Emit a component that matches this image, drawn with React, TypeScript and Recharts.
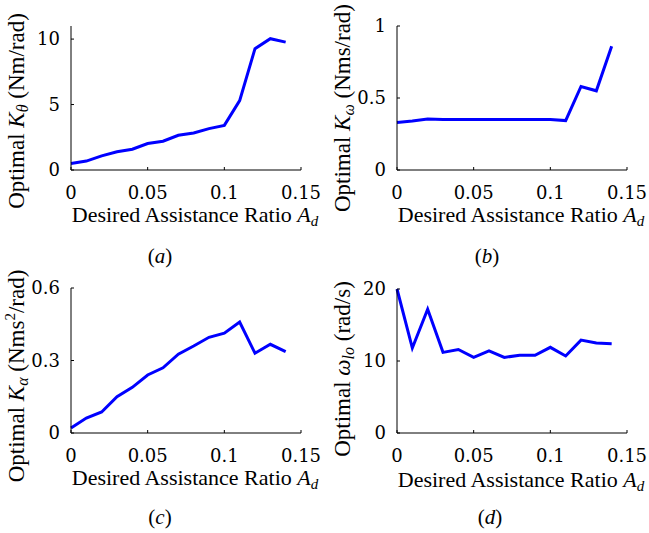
import { LineChart, Line, XAxis, YAxis } from 'recharts';

// desired assistance ratio A_d
const ratios = [0, 0.01, 0.02, 0.03, 0.04, 0.05, 0.06, 0.07, 0.08, 0.09, 0.1, 0.11, 0.12, 0.13, 0.14];
const xTicks = [0, 0.05, 0.1, 0.15];

// optimal gains
const kTheta = [0.5, 0.68, 1.08, 1.39, 1.59, 2.02, 2.2, 2.65, 2.83, 3.16, 3.41, 5.3, 9.27, 10.03, 9.77];
const kOmega = [0.33, 0.34, 0.354, 0.35, 0.35, 0.35, 0.35, 0.35, 0.35, 0.35, 0.35, 0.343, 0.58, 0.55, 0.86];
const kAlpha = [0.021, 0.062, 0.087, 0.15, 0.189, 0.24, 0.27, 0.326, 0.36, 0.396, 0.413, 0.459, 0.33, 0.367, 0.337];
const omegaLo = [20, 11.8, 17.2, 11.2, 11.6, 10.5, 11.4, 10.5, 10.8, 10.8, 11.9, 10.7, 12.9, 12.5, 12.4];

const serif = 'Liberation Serif, DejaVu Serif, serif';
const tickFont = { fill: '#000', fontSize: 18, style: { fontFamily: 'DejaVu Serif, serif' } };

type PanelProps = {
    values: number[];
    domain: [number, number];
    yTicks: number[];
    yLabel: React.ReactNode;
    yLabelY: number;
    caption: string;
    captionX: number;
    captionY: number;
    plotTop: number;
    plotBottom: number;
    height: number;
    xLabelY: number;
};

const Panel = ({ values, domain, yTicks, yLabel, yLabelY, caption, captionX, captionY, plotTop, plotBottom, height, xLabelY }: PanelProps) => {
    const data = ratios.map((r, i) => ({ r, v: values[i] }));

    return (
        <LineChart width={325} height={height} data={data} margin={{ top: plotTop, right: 24, left: 0, bottom: 0 }}>
            <XAxis
                dataKey="r"
                type="number"
                domain={[0, 0.15]}
                ticks={xTicks}
                height={height - plotBottom}
                tick={tickFont}
                tickSize={-3}
                tickMargin={19}
                axisLine={{ stroke: '#000' }}
                tickLine={{ stroke: '#000' }}
                label={{
                    content: () => (
                        <g>
                            <text x={195} y={xLabelY} textAnchor="middle" style={{ fontFamily: serif }} fontSize={22} fill="#000">
                                Desired Assistance Ratio <tspan fontStyle="italic">A</tspan>
                                <tspan fontStyle="italic" fontSize={15} dy={4}>d</tspan>
                            </text>
                            <text x={captionX} y={captionY} textAnchor="middle" style={{ fontFamily: serif }} fontSize={21} fill="#000">
                                (<tspan fontStyle="italic">{caption}</tspan>)
                            </text>
                        </g>
                    ),
                }}
            />
            <YAxis
                type="number"
                domain={domain}
                ticks={yTicks}
                width={71}
                tick={tickFont}
                tickSize={-3}
                tickMargin={14}
                axisLine={{ stroke: '#000' }}
                tickLine={{ stroke: '#000' }}
                label={{
                    content: () => (
                        <text
                            x={24}
                            y={yLabelY}
                            transform={`rotate(-90 24 ${yLabelY})`}
                            textAnchor="middle"
                            style={{ fontFamily: serif }}
                            fontSize={23}
                            fill="#000"
                        >
                            {yLabel}
                        </text>
                    ),
                }}
            />
            <Line type="linear" dataKey="v" stroke="#0000ff" strokeWidth={3} dot={false} isAnimationActive={false} />
        </LineChart>
    );
};

export default function App() {
    return (
        <div style={{ position: 'absolute', left: 0, top: 0, width: 649, height: 533, background: '#fff', overflow: 'hidden' }}>
            <div style={{ position: 'absolute', left: 0, top: 0 }}>
                <Panel
                    values={kTheta}
                    domain={[0, 11]}
                    yTicks={[0, 5, 10]}
                    yLabelY={111}
                    yLabel={<>Optimal <tspan fontStyle="italic">K</tspan><tspan fontStyle="italic" fontSize={16} dy={4}>θ</tspan><tspan dy={-4}> (Nm/rad)</tspan></>}
                    caption="a"
                    captionX={160}
                    captionY={263}
                    plotTop={26}
                    plotBottom={170}
                    height={272}
                    xLabelY={222}
                />
            </div>
            <div style={{ position: 'absolute', left: 326, top: 0 }}>
                <Panel
                    values={kOmega}
                    domain={[0, 1]}
                    yTicks={[0, 0.5, 1]}
                    yLabelY={108}
                    yLabel={<>Optimal <tspan fontStyle="italic">K</tspan><tspan fontStyle="italic" fontSize={16} dy={4}>ω</tspan><tspan dy={-4}> (Nms/rad)</tspan></>}
                    caption="b"
                    captionX={161}
                    captionY={263}
                    plotTop={26}
                    plotBottom={170}
                    height={272}
                    xLabelY={222}
                />
            </div>
            <div style={{ position: 'absolute', left: 0, top: 265 }}>
                <Panel
                    values={kAlpha}
                    domain={[0, 0.6]}
                    yTicks={[0, 0.3, 0.6]}
                    yLabelY={111}
                    yLabel={<>Optimal <tspan fontStyle="italic">K</tspan><tspan fontStyle="italic" fontSize={16} dy={4}>α</tspan><tspan dy={-4}> (Nms</tspan><tspan fontSize={15} dy={-9}>2</tspan><tspan dy={9}>/rad)</tspan></>}
                    caption="c"
                    captionX={160}
                    captionY={259}
                    plotTop={23}
                    plotBottom={168}
                    height={268}
                    xLabelY={220}
                />
            </div>
            <div style={{ position: 'absolute', left: 326, top: 265 }}>
                <Panel
                    values={omegaLo}
                    domain={[0, 20]}
                    yTicks={[0, 10, 20]}
                    yLabelY={104}
                    yLabel={<>Optimal <tspan fontStyle="italic">ω</tspan><tspan fontStyle="italic" fontSize={16} dy={4}>lo</tspan><tspan dy={-4}> (rad/s)</tspan></>}
                    caption="d"
                    captionX={164}
                    captionY={259}
                    plotTop={24}
                    plotBottom={168}
                    height={268}
                    xLabelY={222}
                />
            </div>
        </div>
    );
}
